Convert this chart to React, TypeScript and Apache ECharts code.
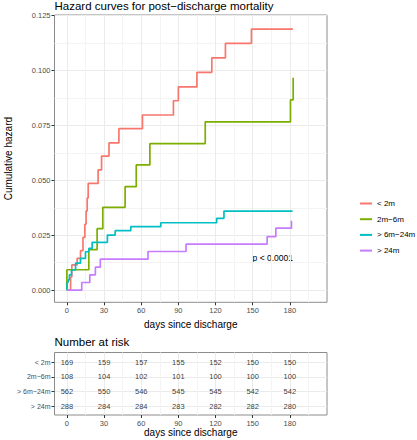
import React, { useEffect, useRef } from 'react';
import * as echarts from 'echarts';

// ---- Data ----
const groups = ['< 2m', '2m−6m', '> 6m−24m', '> 24m'];
const groupColors = ['#F8766D', '#7CAE00', '#00BFC4', '#C77CFF'];

// cumulative hazard step points [day, hazard]
const hazLt2m: [number, number][] = [
  [0, 0], [3, 0.006], [4, 0.0115], [8.3, 0.0145], [11, 0.018], [13, 0.024], [14.5, 0.03],
  [15.5, 0.036], [16.4, 0.042], [17.2, 0.0486], [25.2, 0.0547], [28, 0.061], [34, 0.067],
  [42, 0.0735], [61, 0.0797], [86, 0.0862], [90, 0.0925], [105, 0.0991], [117, 0.1057],
  [128, 0.1123], [149, 0.1188], [182.5, 0.1188],
];
const haz2m6m: [number, number][] = [
  [0, 0], [0, 0.0093], [17.7, 0.0185], [24.4, 0.028], [29, 0.0377], [47, 0.0471],
  [56, 0.057], [67, 0.0667], [111.7, 0.0766], [180.5, 0.0866], [182.7, 0.0966],
];
const haz6m24m: [number, number][] = [
  [0, 0], [0.3, 0.0036], [1, 0.0047], [2, 0.007], [3.7, 0.0092], [7, 0.0123], [11, 0.0145],
  [15, 0.0175], [17.7, 0.019], [20.4, 0.0218], [32.7, 0.0251], [39, 0.0271], [51.6, 0.0289],
  [75.8, 0.0307], [120.9, 0.0327], [126.8, 0.036], [182.2, 0.036],
];
const hazGt24m: [number, number][] = [
  [0, 0], [12, 0.0035], [18.5, 0.007], [23, 0.0105], [27, 0.0141], [65.5, 0.0176],
  [96.2, 0.021], [161.7, 0.0244], [168.7, 0.0282], [181.3, 0.0316],
];

// number at risk table
const riskTimes = [0, 30, 60, 90, 120, 150, 180];
const riskLt2m = [169, 159, 157, 155, 152, 150, 150];
const risk2m6m = [108, 104, 102, 101, 100, 100, 100];
const risk6m24m = [562, 550, 546, 545, 545, 542, 542];
const riskGt24m = [288, 284, 284, 283, 282, 282, 280];

// tick / grid values
const xMajor = [0, 30, 60, 90, 120, 150, 180];
const xMinor = [15, 45, 75, 105, 135, 165, 195];
const yMajor = [0, 0.025, 0.05, 0.075, 0.1, 0.125];
const yMinor = [0.0125, 0.0375, 0.0625, 0.0875, 0.1125];
const tableRows = [1, 2, 3, 4];

const titleMain = 'Hazard curves for post−discharge mortality';
const titleTable = 'Number at risk';
const xName = 'days since discharge';
const yName = 'Cumulative hazard';
const pText = 'p < 0.0001';

export default function App() {
  const ref = useRef<HTMLDivElement>(null);
  useEffect(() => {
    const chart = echarts.init(ref.current!, null, { renderer: 'svg' });
    const font = '"Liberation Sans", Arial, sans-serif';
    const axisGrey = '#4D4D4D';
    const gridMajor = '#EBEBEB';
    const gridMinor = '#F4F4F4';
    const tickColor = '#333333';
    const border = '#8c8c8c';
    const tickFont = 7.5;
    const haz = [hazLt2m, haz2m6m, haz6m24m, hazGt24m];
    const risk = [riskLt2m, risk2m6m, risk6m24m, riskGt24m];
    const tableData: number[][] = [];
    risk.forEach((arr, g) =>
      arr.forEach((n, i) => tableData.push([riskTimes[i], groups.length - g, n]))
    );

    const xMin = -10;
    const xMax = 210;

    const majorX = (gridIndex: number, nameGap: number) => ({
      gridIndex,
      type: 'value',
      min: xMin,
      max: xMax,
      position: 'bottom',
      axisLine: { show: false, onZero: false },
      axisTick: { show: true, customValues: xMajor, length: 3, lineStyle: { color: tickColor, width: 1 } },
      axisLabel: { customValues: xMajor, fontSize: tickFont, color: axisGrey, margin: 4, fontFamily: font },
      splitLine: { show: true, lineStyle: { color: gridMajor, width: 1 } },
      name: xName,
      nameLocation: 'middle',
      nameGap,
      nameTextStyle: { fontSize: 10, color: '#000', fontFamily: font },
    });
    const minorX = (gridIndex: number) => ({
      gridIndex,
      type: 'value',
      min: xMin,
      max: xMax,
      position: 'bottom',
      axisLine: { show: false, onZero: false },
      axisTick: { show: false, customValues: xMinor },
      axisLabel: { show: false },
      splitLine: { show: true, lineStyle: { color: gridMinor, width: 1 } },
    });

    const option: any = {
      animation: false,
      textStyle: { fontFamily: font },
      title: [
        {
          text: titleMain, left: 54.5, top: 0, padding: 0,
          textStyle: { fontSize: 11.5, fontWeight: 'normal', color: '#000', fontFamily: font },
        },
        {
          text: titleTable, left: 54.5, top: 336, padding: 0,
          textStyle: { fontSize: 11.5, fontWeight: 'normal', color: '#000', fontFamily: font },
        },
      ],
      legend: {
        data: groups,
        orient: 'vertical',
        left: 360,
        top: 198.5,
        padding: 0,
        icon: 'rect',
        itemWidth: 12,
        itemHeight: 2,
        itemGap: 5.7,
        textStyle: { fontSize: 8, color: '#000', lineHeight: 10, fontFamily: font },
      },
      grid: [
        { left: 54.5, top: 15, width: 272.5, height: 287.3, show: true, borderColor: border, borderWidth: 1, outerBoundsMode: 'none' },
        { left: 54.5, top: 352.5, width: 272.5, height: 62.5, show: true, borderColor: border, borderWidth: 1, outerBoundsMode: 'none' },
      ],
      xAxis: [majorX(0, 15), minorX(0), majorX(1, 9), minorX(1)],
      yAxis: [
        {
          gridIndex: 0,
          type: 'value',
          min: -0.0055,
          max: 0.1252,
          position: 'left',
          axisLine: { show: false, onZero: false },
          axisTick: { show: true, customValues: yMajor, length: 3, lineStyle: { color: tickColor, width: 1 } },
          axisLabel: {
            customValues: yMajor, fontSize: tickFont, color: axisGrey, margin: 4, fontFamily: font,
            formatter: (v: number) => v.toFixed(3),
          },
          splitLine: { show: true, lineStyle: { color: gridMajor, width: 1 } },
          name: yName,
          nameLocation: 'middle',
          nameGap: 41,
          nameTextStyle: { fontSize: 10, color: '#000', fontFamily: font },
        },
        {
          gridIndex: 0,
          type: 'value',
          min: -0.0055,
          max: 0.1252,
          position: 'left',
          axisLine: { show: false, onZero: false },
          axisTick: { show: false, customValues: yMinor },
          axisLabel: { show: false },
          splitLine: { show: true, lineStyle: { color: gridMinor, width: 1 } },
        },
        {
          gridIndex: 1,
          type: 'value',
          min: 0.4,
          max: 4.67,
          position: 'left',
          axisLine: { show: false, onZero: false },
          axisTick: { show: true, customValues: tableRows, length: 3, lineStyle: { color: tickColor, width: 1 } },
          axisLabel: {
            customValues: tableRows, fontSize: 7, color: axisGrey, margin: 4, fontFamily: font,
            formatter: (v: number) => groups[groups.length - Math.round(v)],
          },
          splitLine: { show: true, lineStyle: { color: gridMajor, width: 1 } },
        },
      ],
      series: [
        ...haz.map((d, i) => ({
          name: groups[i],
          type: 'line',
          xAxisIndex: 0,
          yAxisIndex: 0,
          data: d,
          step: 'end',
          showSymbol: false,
          symbol: 'none',
          color: groupColors[i],
          lineStyle: { color: groupColors[i], width: 1.7 },
          silent: true,
        })),
        {
          name: 'risk',
          type: 'scatter',
          xAxisIndex: 2,
          yAxisIndex: 2,
          data: tableData,
          symbolSize: 1,
          itemStyle: { color: 'rgba(0,0,0,0)' },
          silent: true,
          label: {
            show: true,
            position: 'inside',
            formatter: (p: any) => String(p.value[2]),
            fontSize: 7.5,
            color: '#000',
            fontFamily: font,
          },
        },
      ],
      graphic: [
        {
          type: 'text',
          x: 293,
          y: 258,
          style: {
            text: pText,
            fill: '#000',
            fontSize: 8.5,
            fontFamily: font,
            textAlign: 'right',
            textVerticalAlign: 'middle',
          },
        },
      ],
    };
    chart.setOption(option);
    return () => chart.dispose();
  }, []);
  return (
    <div
      ref={ref}
      style={{ position: 'absolute', left: 0, top: 0, width: 417, height: 440 }}
    />
  );
}
